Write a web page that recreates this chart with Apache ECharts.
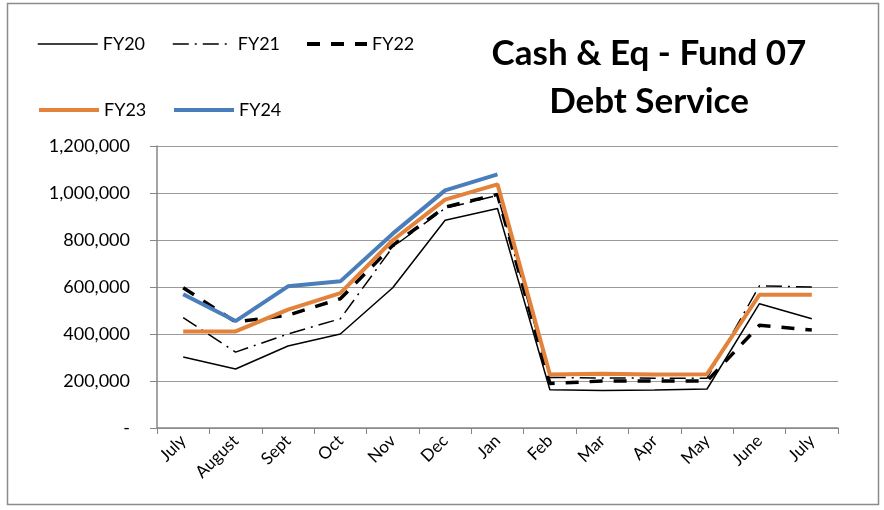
<!DOCTYPE html>
<html>
<head>
<meta charset="utf-8">
<script src="https://cdn.jsdelivr.net/npm/echarts@6/dist/echarts.min.js"></script>
<style>
  html, body { margin: 0; padding: 0; background: #fff; }
  #chart { width: 884px; height: 510px; }
</style>
</head>
<body>
<div id="chart"></div>
<script>
// months of the fiscal year
const months = ['July', 'August', 'Sept', 'Oct', 'Nov', 'Dec', 'Jan', 'Feb', 'Mar', 'Apr', 'May', 'June', 'July']

// balances
const fy20 = [302000, 251000, 349000, 400000, 597000, 884000, 934000, 163000, 160000, 162000, 166000, 529000, 465000]
const fy21 = [470000, 323000, 400000, 465000, 770000, 935000, 990000, 215000, 213000, 212000, 212000, 605000, 600000]
const fy22 = [597000, 451000, 480000, 550000, 777000, 940000, 994000, 189000, 200000, 200000, 200000, 437000, 417000]
const fy23 = [411000, 411000, 504000, 574000, 799000, 972000, 1037000, 228000, 231000, 228000, 229000, 567000, 567000]
const fy24 = [569000, 455000, 603000, 624000, 827000, 1011000, 1079000, null, null, null, null, null, null]

const font = 'Lato, "Open Sans", sans-serif'

const chart = echarts.init(document.getElementById('chart'))

function lineSeries(name, data, color, width, type) {
  return {
    name: name,
    type: 'line',
    data: data,
    symbol: 'none',
    animation: false,
    lineStyle: { color: color, width: width, type: type },
    itemStyle: { color: color }
  }
}

// one legend per item so each sits where it does in the original
function legendAt(name, left, top, width) {
  return {
    data: [name],
    left: left,
    top: top,
    itemWidth: 60,
    itemHeight: 14,
    itemStyle: { opacity: 0 },
    lineStyle: { width: width },
    textStyle: { fontFamily: font, fontSize: 18, color: '#000' }
  }
}

chart.setOption({
  backgroundColor: '#fff',
  graphic: [{
    type: 'rect',
    shape: { x: 7.5, y: 3.5, width: 871, height: 501 },
    style: { fill: 'none', stroke: '#8c8c8c', lineWidth: 1.5 }
  }],
  title: {
    text: 'Cash & Eq - Fund 07\nDebt Service',
    left: 644,
    top: 25,
    textAlign: 'center',
    textStyle: { fontFamily: font, fontSize: 35, fontWeight: 'bold', color: '#000', lineHeight: 48 }
  },
  legend: [
    legendAt('FY20', 32, 30, 1.5),
    legendAt('FY21', 167, 30, 1.5),
    legendAt('FY22', 300, 30, 4),
    legendAt('FY23', 32, 96, 4),
    legendAt('FY24', 167, 96, 4)
  ],
  grid: { left: 157, right: 46, top: 146, bottom: 82 },
  xAxis: {
    type: 'category',
    data: months,
    boundaryGap: true,
    axisLine: { lineStyle: { color: '#868686', width: 1.5 } },
    axisTick: { show: true, length: 6, lineStyle: { color: '#868686' } },
    axisLabel: { rotate: 45, margin: 10, fontFamily: font, fontSize: 17, color: '#000', interval: 0 }
  },
  yAxis: {
    type: 'value',
    min: 0,
    max: 1200000,
    interval: 200000,
    axisLine: { show: true, lineStyle: { color: '#868686', width: 1.5 } },
    axisTick: { show: true, length: 7, lineStyle: { color: '#868686' } },
    splitLine: { lineStyle: { color: '#9a9a9a', width: 1.2 } },
    axisLabel: {
      margin: 27,
      fontFamily: font,
      fontSize: 18,
      color: '#000',
      formatter: function (v) { return v === 0 ? '-' : v.toLocaleString('en-US') }
    }
  },
  series: [
    lineSeries('FY20', fy20, '#000', 1.5, 'solid'),
    lineSeries('FY21', fy21, '#000', 1.5, [16, 6, 2, 6]),
    lineSeries('FY22', fy22, '#000', 3.5, [13, 11]),
    lineSeries('FY23', fy23, '#E3823B', 4, 'solid'),
    lineSeries('FY24', fy24, '#4A7EBB', 4, 'solid')
  ]
})
</script>
</body>
</html>
